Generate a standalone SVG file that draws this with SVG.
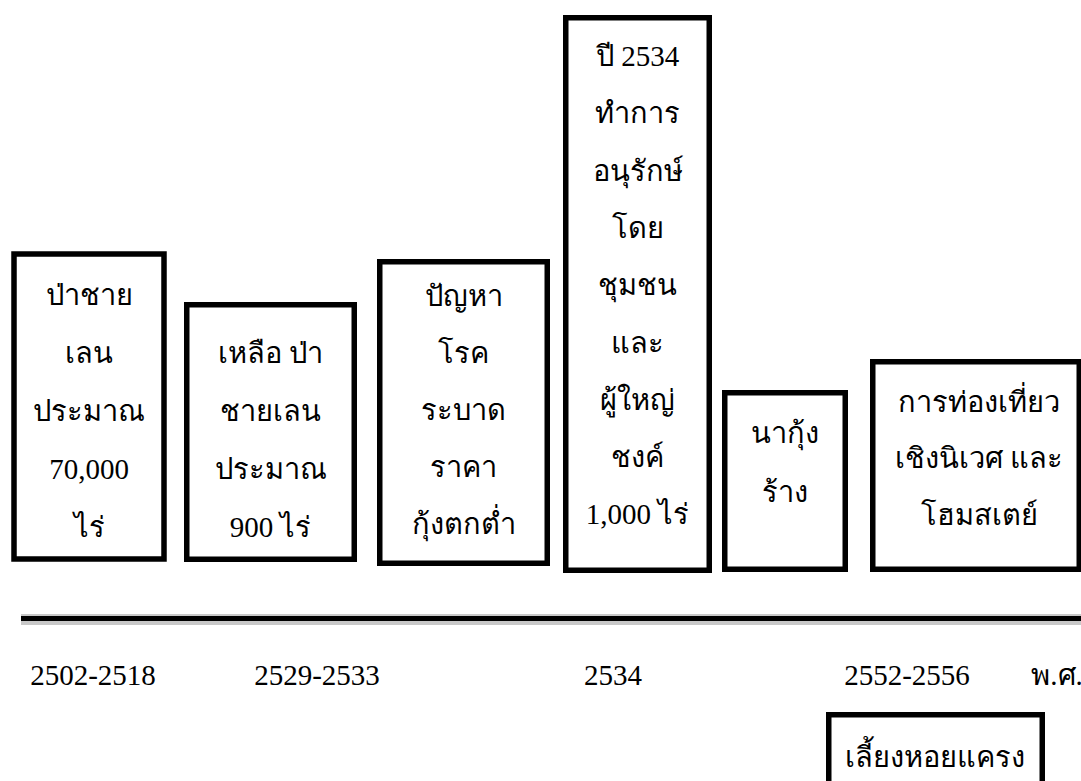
<svg xmlns="http://www.w3.org/2000/svg" width="1081" height="781" viewBox="0 0 1081 781">
<style>
.box{fill:#fff;stroke:#000;stroke-width:5.5}
text{font-family:"Liberation Serif","DejaVu Serif",serif;font-size:29px;fill:#000;text-anchor:middle}
</style>
<rect width="1081" height="781" fill="#fff"/>
<g id="timeline">
<rect x="21" y="614" width="1060" height="11" fill="#c8c8c8"/>
<rect x="21" y="616" width="1060" height="5" fill="#000"/>
</g>
<g id="n1">
<rect class="box" x="14" y="254" width="150" height="305"/>
<text x="89" y="305">ป่าชาย</text>
<text x="89" y="363">เลน</text>
<text x="89" y="421">ประมาณ</text>
<text x="89" y="479">70,000</text>
<text x="89" y="537">ไร่</text>
</g>
<g id="n2">
<rect class="box" x="186.75" y="304.75" width="167.5" height="254.5"/>
<text x="270.5" y="363">เหลือ ป่า</text>
<text x="270.5" y="421">ชายเลน</text>
<text x="270.5" y="479">ประมาณ</text>
<text x="270.5" y="537">900 ไร่</text>
</g>
<g id="n3">
<rect class="box" x="379.75" y="261.75" width="167.5" height="301.5"/>
<text x="463.5" y="306">ปัญหา</text>
<text x="463.5" y="363">โรค</text>
<text x="463.5" y="420">ระบาด</text>
<text x="463.5" y="477">ราคา</text>
<text x="463.5" y="534">กุ้งตกต่ำ</text>
</g>
<g id="n4">
<rect class="box" x="565.75" y="17.75" width="143.5" height="552.5"/>
<text x="637.5" y="66">ปี 2534</text>
<text x="637.5" y="123">ทำการ</text>
<text x="637.5" y="181">อนุรักษ์</text>
<text x="637.5" y="238">โดย</text>
<text x="637.5" y="295">ชุมชน</text>
<text x="637.5" y="353">และ</text>
<text x="637.5" y="410">ผู้ใหญ่</text>
<text x="637.5" y="467">ชงค์</text>
<text x="637.5" y="524">1,000 ไร่</text>
</g>
<g id="n5">
<rect class="box" x="724.75" y="392.75" width="120.5" height="176.5"/>
<text x="785" y="443">นากุ้ง</text>
<text x="785" y="502">ร้าง</text>
</g>
<g id="n6">
<rect class="box" x="872.75" y="361.75" width="206.5" height="207.5"/>
<text x="979" y="412">การท่องเที่ยว</text>
<text x="979" y="468">เชิงนิเวศ และ</text>
<text x="979" y="525">โฮมสเตย์</text>
</g>
<g id="years">
<text x="93" y="685">2502-2518</text>
<text x="317" y="685">2529-2533</text>
<text x="613" y="685">2534</text>
<text x="907" y="685">2552-2556</text>
<text x="1057" y="685">พ.ศ.</text>
</g>
<g id="n7">
<rect class="box" x="828.75" y="714.75" width="213.5" height="80"/>
<text x="935" y="767">เลี้ยงหอยแครง</text>
</g>
</svg>
